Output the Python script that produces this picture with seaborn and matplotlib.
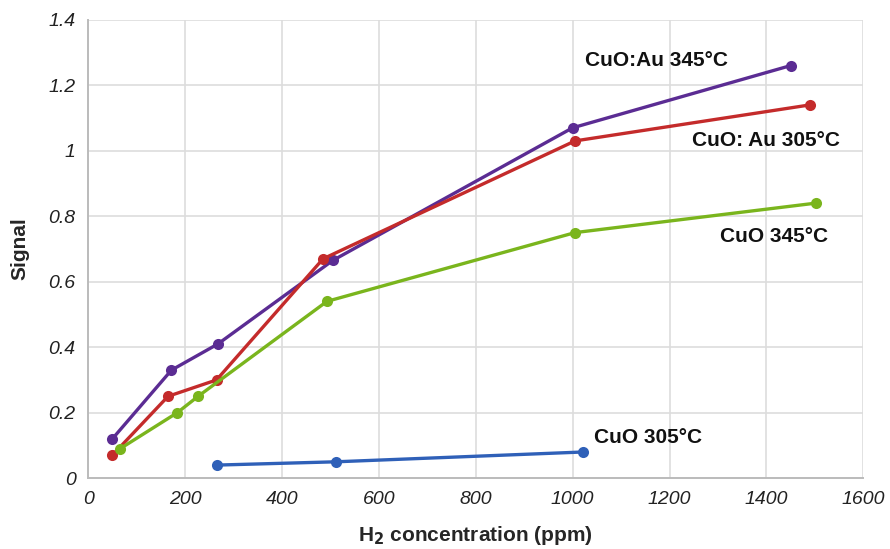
import numpy as np
import pandas as pd
import matplotlib
matplotlib.use("Agg")
import matplotlib.pyplot as plt
import seaborn as sns
from matplotlib.ticker import FuncFormatter

# =========================
# DATA
# =========================
series_names = ["CuO:Au 345°C", "CuO: Au 305°C", "CuO 345°C", "CuO 305°C"]

x_cuoau_345 = [50, 172, 268, 505, 1000, 1450]
y_cuoau_345 = [0.12, 0.33, 0.41, 0.665, 1.07, 1.26]

x_cuoau_305 = [50, 165, 265, 485, 1005, 1490]
y_cuoau_305 = [0.07, 0.25, 0.30, 0.67, 1.03, 1.14]

x_cuo_345 = [66, 184, 227, 493, 1005, 1502]
y_cuo_345 = [0.09, 0.20, 0.25, 0.54, 0.75, 0.84]

x_cuo_305 = [266, 511, 1022]
y_cuo_305 = [0.04, 0.05, 0.08]

label_x = [1026, 1247, 1305, 1045]
label_y = [1.275, 1.03, 0.738, 0.125]

colors = ["#5b2c93", "#c42b2b", "#7ab51d", "#2f60b8"]

xs = [x_cuoau_345, x_cuoau_305, x_cuo_345, x_cuo_305]
ys = [y_cuoau_345, y_cuoau_305, y_cuo_345, y_cuo_305]

frames = []
for name, xv, yv in zip(series_names, xs, ys):
    frames.append(pd.DataFrame({"conc": xv, "signal": yv, "series": name}))
df = pd.concat(frames, ignore_index=True)

# =========================
# PLOT
# =========================
sns.set_style("whitegrid")
plt.rcParams['font.family'] = ['Liberation Sans', 'DejaVu Sans']

fig = plt.figure(figsize=(8.9, 5.49), dpi=100)
ax = fig.add_axes([0.099, 0.129, 0.871, 0.835])

sns.lineplot(
    data=df,
    x="conc",
    y="signal",
    hue="series",
    hue_order=series_names,
    palette=colors,
    sort=False,
    estimator=None,
    marker="o",
    markersize=8,
    markeredgewidth=0,
    linewidth=2.4,
    legend=False,
    ax=ax,
)

for name, lx, ly in zip(series_names, label_x, label_y):
    ax.text(lx, ly, name, fontsize=15, fontweight="bold",
            ha="left", va="center", color="#111111")

ax.set_xlim(0, 1600)
ax.set_ylim(0, 1.4)
ax.set_xticks(np.arange(0, 1601, 200))
ax.set_yticks(np.arange(0, 1.41, 0.2))
ax.yaxis.set_major_formatter(FuncFormatter(lambda v, p: f"{v:g}"))

ax.grid(True, color="#dddddd", linewidth=1.2)
for side in ["top", "right"]:
    ax.spines[side].set_visible(False)
for side in ["left", "bottom"]:
    ax.spines[side].set_color("#bbbbbb")
    ax.spines[side].set_linewidth(1.4)

ax.tick_params(axis="x", length=0, labelsize=14, pad=9)
ax.tick_params(axis="y", length=0, labelsize=14, pad=9)
for lbl in ax.get_xticklabels() + ax.get_yticklabels():
    lbl.set_fontstyle("italic")
    lbl.set_color("#222222")

ax.set_xlabel("H$_\\mathbf{2}$ concentration (ppm)", fontsize=15,
              fontweight="bold", labelpad=12)
ax.set_ylabel("Signal", fontsize=15, fontweight="bold", labelpad=14)

plt.savefig("out.png", dpi=100)
